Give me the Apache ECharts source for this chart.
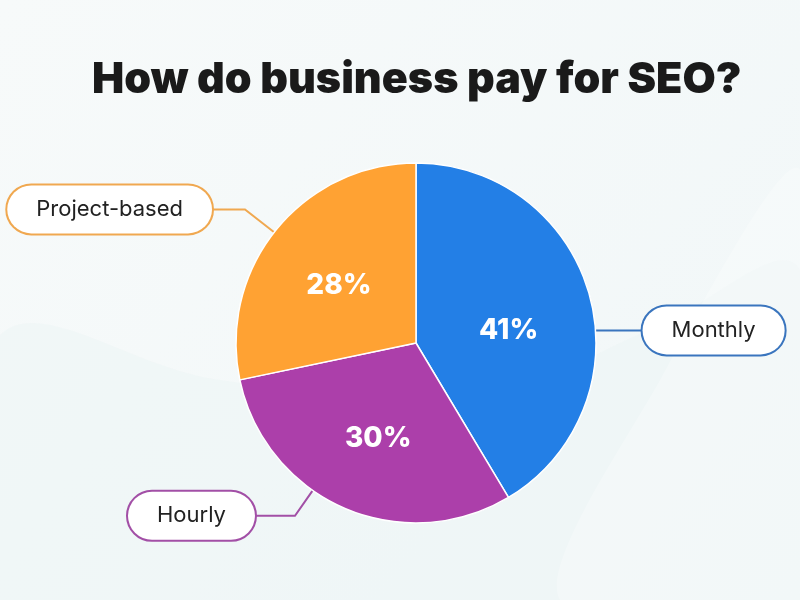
<!DOCTYPE html>
<html>
	<head>
		<meta charset="utf-8">
		<title>How do business pay for SEO?</title>
		<script src="https://cdn.jsdelivr.net/npm/echarts@6/dist/echarts.min.js"></script>
		<style>
			html, body { margin: 0; padding: 0; }
			#chart { width: 800px; height: 600px; }
		</style>
	</head>
	<body>
		<div id="chart"></div>
		<script>
			// data
			const categories = ['Monthly', 'Hourly', 'Project-based'];
			const shares = [41, 30, 28];
			const sliceColors = ['#237FE6', '#AC3FAA', '#FFA233'];
			const boxColors = ['#3A75BE', '#A24FA6', '#F0A850'];

			// pie geometry and label leader layout (degrees from top, clockwise)
			const center = [416, 343];
			const radius = 180;
			const leaderAngle = [86, 215, 308];
			const leaderLen = [[0, 47], [31, 40], [37, 33]];
			const pctOffset = [[-3, 14], [2, 5], [0, 5]];

			const chartDom = document.getElementById('chart');
			const chart = echarts.init(chartDom, null, { renderer: 'canvas' });

			const pieData = categories.map(function (name, i) {
				return {
					name: name,
					value: shares[i],
					itemStyle: { color: sliceColors[i] },
					label: { borderColor: boxColors[i] },
					labelLine: { lineStyle: { color: boxColors[i] } }
				};
			});

			function leaderLayout(params) {
				const i = params.dataIndex;
				const a = leaderAngle[i] * Math.PI / 180;
				const dx = Math.sin(a), dy = -Math.cos(a);
				const p0 = [center[0] + radius * dx, center[1] + radius * dy];
				const p1 = [p0[0] + leaderLen[i][0] * dx, p0[1] + leaderLen[i][0] * dy];
				const side = dx > 0 ? 1 : -1;
				const p2 = [p1[0] + side * leaderLen[i][1], p1[1]];
				return {
					x: p2[0],
					y: p2[1],
					align: side > 0 ? 'left' : 'right',
					verticalAlign: 'middle',
					labelLinePoints: [p0, p1, p2]
				};
			}

			const option = {
				backgroundColor: {
					type: 'linear', x: 0, y: 0, x2: 1, y2: 1,
					colorStops: [
						{ offset: 0, color: '#F7FAFA' },
						{ offset: 1, color: '#F1F7F8' }
					]
				},
				graphic: [
					{
						type: 'polygon',
						silent: true,
						z: -10,
						shape: {
							points: [[0, 335], [220, 380], [470, 400], [650, 330], [800, 270], [800, 600], [0, 600]],
							smooth: 0.4
						},
						style: { fill: 'rgba(234,243,245,0.45)' }
					},
					{
						type: 'polygon',
						silent: true,
						z: -10,
						shape: {
							points: [[560, 600], [660, 380], [800, 170], [800, 600]],
							smooth: 0.3
						},
						style: { fill: 'rgba(255,255,255,0.25)' }
					}
				],
				title: {
					text: 'How do business pay for SEO?',
					left: 87,
					top: 54,
					textStyle: {
						fontFamily: 'Inter',
						fontWeight: 900,
						fontSize: 43,
						color: '#1A1A1A'
					}
				},
				series: [
					{
						name: 'SEO payment',
						type: 'pie',
						center: center,
						radius: radius,
						startAngle: 90,
						clockwise: true,
						avoidLabelOverlap: false,
						itemStyle: { borderColor: '#FFFFFF', borderWidth: 1.5 },
						label: {
							show: true,
							position: 'outside',
							formatter: '{b}',
							fontFamily: 'Inter',
							fontSize: 22,
							color: '#222222',
							backgroundColor: '#FFFFFF',
							borderWidth: 2,
							borderRadius: 26,
							padding: [13, 29]
						},
						labelLine: { show: true, lineStyle: { width: 2 } },
						labelLayout: leaderLayout,
						emphasis: { disabled: true },
						data: pieData
					},
					{
						name: 'SEO payment share',
						type: 'pie',
						center: center,
						radius: radius * 1.07,
						startAngle: 90,
						clockwise: true,
						silent: true,
						itemStyle: { color: 'rgba(0,0,0,0)' },
						label: {
							show: true,
							position: 'inside',
							formatter: '{c}%',
							fontFamily: 'Inter',
							fontWeight: 800,
							fontSize: 28,
							color: '#FFFFFF'
						},
						labelLine: { show: false },
						data: categories.map(function (name, i) {
							return { name: name, value: shares[i], label: { offset: pctOffset[i] } };
						})
					}
				]
			};
			chart.setOption(option);
		</script>
	</body>
</html>
